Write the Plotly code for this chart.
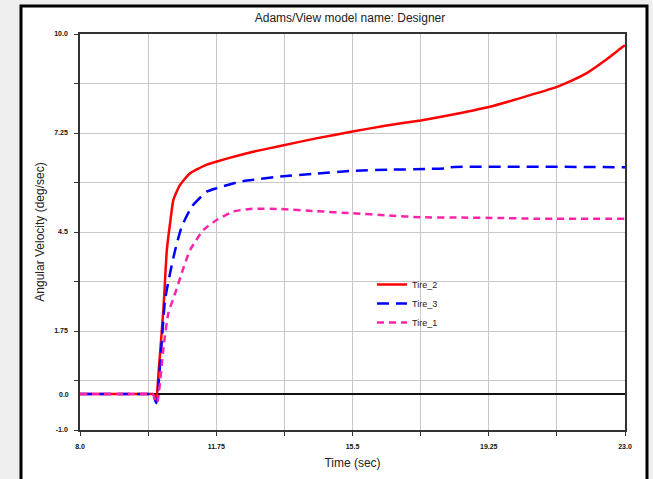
import plotly.graph_objects as go

# Time samples (sec) and angular velocity (deg/sec) for each tire
t_tire2 = [8.0, 9.0, 9.9, 10.0, 10.1, 10.16, 10.30, 10.39, 10.48, 10.57, 10.75, 11.03, 11.49,
           11.77, 12.41, 12.68, 13.51, 14.5, 15.5, 16.4, 17.375, 18.3, 18.74, 19.25, 20.12,
           21.125, 21.5, 21.96, 22.42, 22.92, 23.0]
w_tire2 = [0.0, 0.0, 0.0, 0.0, -0.1, 0.57, 2.43, 4.0, 4.75, 5.39, 5.80, 6.13, 6.37,
           6.46, 6.64, 6.71, 6.89, 7.10, 7.29, 7.45, 7.60, 7.77, 7.86, 7.97, 8.22,
           8.53, 8.69, 8.92, 9.24, 9.63, 9.69]

t_tire3 = [8.0, 9.0, 9.9, 10.0, 10.1, 10.22, 10.34, 10.48, 10.62, 10.80, 11.08, 11.49, 11.77,
           12.41, 12.68, 13.51, 14.5, 15.5, 16.5, 17.5, 18.1, 18.2, 23.0]
w_tire3 = [0.0, 0.0, 0.0, 0.0, -0.25, 1.04, 2.61, 3.36, 4.0, 4.65, 5.21, 5.62, 5.72,
           5.90, 5.94, 6.04, 6.12, 6.20, 6.23, 6.25, 6.27, 6.30, 6.30]

t_tire1 = [8.0, 9.0, 9.9, 10.0, 10.12, 10.30, 10.43, 10.62, 10.80, 11.03, 11.40, 11.77, 12.22,
           12.68, 13.51, 14.5, 15.5, 16.5, 17.375, 18.5, 19.5, 20.5, 23.0]
w_tire1 = [0.0, 0.0, 0.0, 0.0, -0.25, 1.31, 2.24, 2.80, 3.36, 4.0, 4.56, 4.84, 5.07,
           5.14, 5.14, 5.08, 5.02, 4.96, 4.91, 4.90, 4.89, 4.87, 4.87]

# Axis ticks: gridlines every step, labels on every other one
x_ticks = [8.0, 9.875, 11.75, 13.625, 15.5, 17.375, 19.25, 21.125, 23.0]
x_labels = ["8.0", "", "11.75", "", "15.5", "", "19.25", "", "23.0"]
y_ticks = [-1.0, 0.375, 1.75, 3.125, 4.5, 5.875, 7.25, 8.625, 10.0]
y_labels = ["-1.0", "", "1.75", "", "4.5", "", "7.25", "", "10.0"]

FONT = "Liberation Sans, Arial, sans-serif"
W, H = 653, 479
ML, MR, MT, MB = 80, 28, 34, 49
PW, PH = W - ML - MR, H - MT - MB


def px_x(px):
    return (px - ML) / PW


def px_y(py):
    return (H - MB - py) / PH


fig = go.Figure()
fig.add_trace(go.Scatter(x=t_tire2, y=w_tire2, mode="lines", name="Tire_2",
                         line=dict(color="#ff0000", width=2.5, shape="spline", smoothing=0.5)))
fig.add_trace(go.Scatter(x=t_tire3, y=w_tire3, mode="lines", name="Tire_3",
                         line=dict(color="#0000ff", width=2.5, dash="12px,7px",
                                   shape="spline", smoothing=0.5)))
fig.add_trace(go.Scatter(x=t_tire1, y=w_tire1, mode="lines", name="Tire_1",
                         line=dict(color="#ff22aa", width=2.5, dash="7px,5px",
                                   shape="spline", smoothing=0.5)))

# white report frame with a black border
fig.add_shape(type="rect", xref="paper", yref="paper",
              x0=px_x(21), x1=px_x(647), y0=px_y(H + 10), y1=px_y(6),
              fillcolor="white", line=dict(color="black", width=3), layer="below")

fig.add_annotation(x=0, y=0, xref="paper", yref="y", text="<b>0.0</b>",
                   showarrow=False, xanchor="right", xshift=-9,
                   font=dict(family=FONT, size=7, color="#111"))

fig.update_layout(
    width=W, height=H, autosize=False,
    margin=dict(l=ML, r=MR, t=MT, b=MB),
    paper_bgcolor="#efefef", plot_bgcolor="white",
    title=dict(text="Adams/View model name: Designer", x=px_x(350), xref="paper",
               xanchor="center", y=1 - 18 / H, yanchor="middle",
               font=dict(family=FONT, size=12, color="#222")),
    showlegend=True,
    legend=dict(x=px_x(372), y=px_y(270), xanchor="left", yanchor="top",
                bgcolor="rgba(0,0,0,0)", font=dict(family=FONT, size=9, color="#222"),
                tracegroupgap=0),
    font=dict(family=FONT),
)

fig.update_xaxes(range=[8, 23], tickvals=x_ticks, ticktext=x_labels,
                 showgrid=True, gridcolor="#c8c8c8", gridwidth=1,
                 showline=True, mirror=True, linecolor="#333", linewidth=1.5,
                 ticks="outside", ticklen=4, tickcolor="#333", ticklabelstandoff=5,
                 tickfont=dict(family=FONT, size=7, color="#111", weight="bold"),
                 zeroline=False,
                 title=dict(text="Time (sec)", font=dict(family=FONT, size=12, color="#222"),
                            standoff=9))
fig.update_yaxes(range=[-1, 10], tickvals=y_ticks, ticktext=y_labels,
                 showgrid=True, gridcolor="#c8c8c8", gridwidth=1,
                 showline=True, mirror=True, linecolor="#333", linewidth=1.5,
                 ticks="outside", ticklen=4, tickcolor="#333", ticklabelstandoff=5,
                 tickfont=dict(family=FONT, size=7, color="#111", weight="bold"),
                 zeroline=True, zerolinecolor="#111", zerolinewidth=1.5,
                 title=dict(text="Angular Velocity (deg/sec)",
                            font=dict(family=FONT, size=12, color="#222"), standoff=7))

fig.write_html("out.html")
